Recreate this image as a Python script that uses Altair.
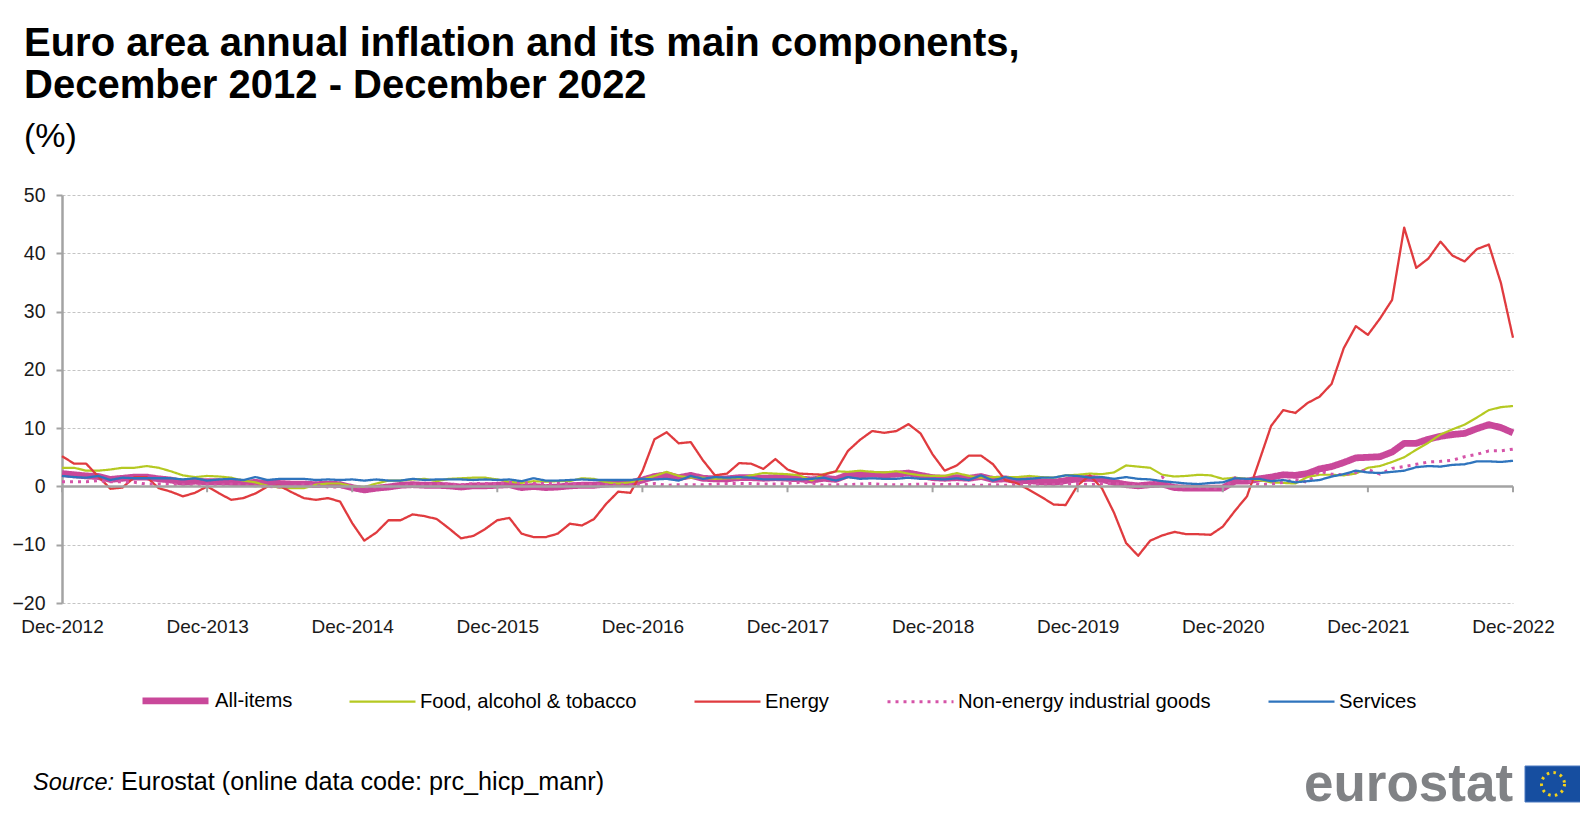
import altair as alt
import pandas as pd

FONT = "Liberation Sans"

# ---------------- data ----------------
series_names = [
    "All-items",
    "Food, alcohol & tobacco",
    "Energy",
    "Non-energy industrial goods",
    "Services",
]
series_colors = ["#C9489A", "#B5C922", "#E03B3F", "#D554A8", "#2F74BD"]
series_widths = [6.8, 2.2, 2.3, 3.0, 2.3]
series_dashes = [[1, 0], [1, 0], [1, 0], [3, 5], [1, 0]]

# month index 0 = Dec 2012 ... 120 = Dec 2022
month_idx = list(range(121))
tick_months = list(range(0, 121, 12))
tick_labels = ["Dec-2012", "Dec-2013", "Dec-2014", "Dec-2015", "Dec-2016", "Dec-2017",
               "Dec-2018", "Dec-2019", "Dec-2020", "Dec-2021", "Dec-2022"]

all_items = [2.2,
             2.0, 1.8, 1.7, 1.2, 1.4, 1.6, 1.6, 1.3, 1.1, 0.7, 0.9, 0.8,
             0.8, 0.7, 0.5, 0.7, 0.5, 0.5, 0.4, 0.4, 0.3, 0.4, 0.3, -0.2,
             -0.6, -0.3, -0.1, 0.2, 0.3, 0.2, 0.2, 0.1, -0.1, 0.1, 0.1, 0.2,
             0.3, -0.2, 0.0, -0.2, -0.1, 0.1, 0.2, 0.2, 0.4, 0.5, 0.6, 1.1,
             1.7, 2.0, 1.5, 1.9, 1.4, 1.3, 1.3, 1.5, 1.5, 1.4, 1.5, 1.4,
             1.3, 1.1, 1.4, 1.2, 2.0, 2.0, 2.1, 2.0, 2.1, 2.3, 1.9, 1.5,
             1.4, 1.5, 1.4, 1.7, 1.2, 1.3, 1.0, 1.0, 0.8, 0.7, 1.0, 1.3,
             1.4, 1.2, 0.7, 0.3, 0.1, 0.3, 0.4, -0.2, -0.3, -0.3, -0.3, -0.3,
             0.9, 0.9, 1.3, 1.6, 2.0, 1.9, 2.2, 3.0, 3.4, 4.1, 4.9, 5.0,
             5.1, 5.9, 7.4, 7.4, 8.1, 8.6, 8.9, 9.1, 9.9, 10.6, 10.1, 9.2]

food = [3.2,
        3.2, 2.7, 2.7, 2.9, 3.2, 3.2, 3.5, 3.2, 2.6, 1.9, 1.6, 1.8,
        1.7, 1.5, 1.0, 0.7, 0.1, -0.2, -0.3, -0.3, 0.3, 0.5, 0.5, 0.0,
        -0.1, 0.5, 1.0, 1.0, 1.2, 1.3, 0.9, 1.3, 1.4, 1.5, 1.5, 1.2,
        0.8, 0.6, 0.9, 0.8, 0.9, 0.9, 1.4, 1.3, 0.7, 0.5, 0.7, 1.2,
        1.8, 2.5, 1.8, 1.5, 1.5, 1.3, 1.4, 1.4, 1.9, 2.3, 2.2, 2.1,
        1.9, 1.0, 2.1, 2.6, 2.5, 2.7, 2.5, 2.4, 2.6, 2.2, 1.9, 1.8,
        1.8, 2.3, 1.8, 1.5, 1.6, 1.6, 1.6, 1.8, 1.6, 1.5, 1.9, 2.0,
        2.2, 2.1, 2.4, 3.6, 3.4, 3.2, 2.0, 1.7, 1.8, 2.0, 1.9, 1.3,
        1.5, 1.3, 1.1, 0.7, 0.6, 0.5, 1.6, 2.0, 2.0, 1.9, 2.2, 3.2,
        3.5, 4.2, 5.0, 6.3, 7.5, 8.9, 9.8, 10.6, 11.8, 13.1, 13.6, 13.8]

energy = [5.2,
          3.9, 3.9, 1.7, -0.4, -0.2, 1.6, 1.6, -0.3, -0.9, -1.7, -1.1, 0.0,
          -1.2, -2.3, -2.0, -1.2, 0.0, 0.1, -1.0, -2.0, -2.3, -2.0, -2.6, -6.3,
          -9.3, -7.9, -5.8, -5.8, -4.8, -5.1, -5.6, -7.2, -8.9, -8.5, -7.3, -5.8,
          -5.4, -8.1, -8.7, -8.7, -8.1, -6.4, -6.7, -5.6, -3.0, -0.9, -1.1, 2.6,
          8.1, 9.3, 7.4, 7.6, 4.5, 1.9, 2.2, 4.0, 3.9, 3.0, 4.7, 2.9,
          2.2, 2.1, 2.0, 2.6, 6.1, 8.0, 9.5, 9.2, 9.5, 10.7, 9.1, 5.5,
          2.7, 3.6, 5.3, 5.3, 3.8, 1.1, 0.5, -0.6, -1.8, -3.1, -3.2, 0.2,
          1.9, -0.3, -4.5, -9.7, -11.9, -9.3, -8.4, -7.8, -8.2, -8.2, -8.3, -6.9,
          -4.2, -1.7, 4.3, 10.4, 13.1, 12.6, 14.3, 15.4, 17.6, 23.7, 27.5, 26.0,
          28.8, 32.0, 44.4, 37.5, 39.1, 42.0, 39.6, 38.6, 40.7, 41.5, 34.9, 25.5]

neig = [0.8,
        0.8, 0.8, 1.0, 0.8, 0.8, 0.7, 0.4, 0.4, 0.4, 0.3, 0.2, 0.3,
        0.2, 0.4, 0.2, 0.1, 0.0, -0.1, 0.0, 0.3, 0.2, -0.1, -0.1, -0.1,
        -0.1, -0.1, -0.1, 0.1, 0.3, 0.2, 0.4, 0.4, 0.3, 0.5, 0.5, 0.5,
        0.7, 0.7, 0.5, 0.5, 0.5, 0.5, 0.4, 0.3, 0.3, 0.3, 0.3, 0.3,
        0.5, 0.2, 0.3, 0.3, 0.3, 0.4, 0.5, 0.5, 0.5, 0.4, 0.4, 0.5,
        0.7, 0.6, 0.2, 0.3, 0.3, 0.4, 0.5, 0.3, 0.3, 0.3, 0.4, 0.4,
        0.3, 0.4, 0.2, 0.2, 0.3, 0.2, 0.3, 0.3, 0.3, 0.3, 0.4, 0.5,
        0.3, 0.5, 0.5, 0.3, 0.2, 0.2, 1.6, -0.1, -0.1, -0.1, -0.3, -0.5,
        1.5, 1.0, 0.3, 0.4, 0.7, 1.2, 0.7, 2.6, 2.1, 2.0, 2.4, 2.9,
        2.1, 3.1, 3.4, 3.8, 4.2, 4.3, 4.5, 5.1, 5.5, 6.1, 6.1, 6.4]

services = [1.8,
            1.6, 1.5, 1.8, 1.1, 1.5, 1.4, 1.4, 1.4, 1.4, 1.2, 1.4, 1.0,
            1.2, 1.3, 1.1, 1.6, 1.1, 1.3, 1.3, 1.3, 1.1, 1.2, 1.1, 1.2,
            1.0, 1.2, 1.0, 1.0, 1.3, 1.1, 1.2, 1.2, 1.2, 1.1, 1.2, 1.1,
            1.2, 0.9, 1.4, 1.0, 1.0, 1.1, 1.2, 1.1, 1.1, 1.1, 1.1, 1.3,
            1.2, 1.3, 1.0, 1.8, 1.3, 1.6, 1.5, 1.6, 1.5, 1.2, 1.2, 1.2,
            1.2, 1.3, 1.5, 1.0, 1.6, 1.3, 1.4, 1.3, 1.3, 1.5, 1.3, 1.3,
            1.2, 1.4, 1.1, 1.9, 1.0, 1.6, 1.2, 1.3, 1.5, 1.5, 1.9, 1.8,
            1.5, 1.6, 1.3, 1.6, 1.3, 1.2, 0.9, 0.7, 0.5, 0.4, 0.6, 0.7,
            1.4, 1.3, 1.3, 0.9, 1.1, 0.7, 0.9, 1.1, 1.7, 2.1, 2.7, 2.4,
            2.3, 2.5, 2.7, 3.3, 3.5, 3.4, 3.7, 3.8, 4.3, 4.3, 4.2, 4.4]

title_line1 = "Euro area annual inflation and its main components,"
title_line2 = "December 2012 - December 2022"
unit_text = "(%)"
source_label = "Source:"
source_text = "Eurostat (online data code: prc_hicp_manr)"
logo_text = "eurostat"

# ---------------- table ----------------
rows = []
for name, vals in zip(series_names, [all_items, food, energy, neig, services]):
    for m, v in zip(month_idx, vals):
        rows.append({"m": m, "series": name, "value": v})
df = pd.DataFrame(rows)

# ---------------- layout (page pixels) ----------------
PX0, PY0 = 62, 195          # top-left of plot area on page
W, H = 1451, 408

x_scale = alt.Scale(domain=[0, 120], nice=False, zero=False)
y_scale = alt.Scale(domain=[-20, 50], nice=False, zero=False)

label_expr = "[" + ",".join("'%s'" % t for t in tick_labels) + "][round(datum.value / 12)]"

legend = alt.Legend(
    title=None, orient="none", legendX=77, legendY=469, direction="horizontal",
    symbolType="stroke", symbolSize=4356, labelFont=FONT, labelFontSize=20.2,
    labelColor="#000000", columnPadding=52, labelOffset=3, labelLimit=500,
)

lines = alt.Chart(df).mark_line(strokeJoin="round", strokeCap="butt").encode(
    x=alt.X("m:Q", scale=x_scale, axis=alt.Axis(
        values=tick_months, labelExpr=label_expr, domain=False, ticks=False, grid=False,
        title=None, labelFont=FONT, labelFontSize=19, labelColor="#1a1a1a",
        labelPadding=14, labelFlush=False, labelOverlap=False)),
    y=alt.Y("value:Q", scale=y_scale, axis=alt.Axis(
        values=list(range(-20, 51, 10)), title=None, grid=True, gridDash=[3, 2],
        gridColor="#C4C4C4", gridWidth=1, domainColor="#A3A3A3", domainWidth=2.5,
        tickColor="#A3A3A3", tickSize=6, tickWidth=2, labelFont=FONT,
        labelFontSize=19.5, labelColor="#1a1a1a", labelPadding=11)),
    color=alt.Color("series:N", scale=alt.Scale(domain=series_names, range=series_colors), legend=legend),
    strokeWidth=alt.StrokeWidth("series:N", scale=alt.Scale(type="ordinal", domain=series_names, range=series_widths), legend=legend),
    strokeDash=alt.StrokeDash("series:N", scale=alt.Scale(domain=series_names, range=series_dashes), legend=legend),
    detail="series:N",
)

one = pd.DataFrame({"k": [0]})
zero_line = alt.Chart(one).mark_rule(color="#A3A3A3", strokeWidth=2.5).encode(
    x=alt.datum(0), x2=alt.datum(120), y=alt.datum(0))

tick_df = pd.DataFrame({"m": tick_months})
zero_ticks = alt.Chart(tick_df).mark_rule(color="#A3A3A3", strokeWidth=2).encode(
    x=alt.X("m:Q"), y=alt.datum(0), y2=alt.datum(-1.0))


def text_layer(txt, px, py, size, weight="normal", style="normal", color="#000000"):
    return alt.Chart(pd.DataFrame({"t": [txt]})).mark_text(
        align="left", baseline="alphabetic", font=FONT, fontSize=size,
        fontWeight=weight, fontStyle=style, color=color,
    ).encode(x=alt.value(px - PX0), y=alt.value(py - PY0), text="t:N")


t1 = text_layer(title_line1, 24, 56, 40, weight="bold")
t2 = text_layer(title_line2, 24, 98, 40, weight="bold")
t3 = text_layer(unit_text, 24, 147, 34)
s1 = text_layer(source_label, 33, 790, 23.5, style="italic")
s2 = text_layer(source_text, 121, 790, 25.2)
logo = text_layer(logo_text, 1304, 801, 53, weight="bold", color="#808285")

flag = alt.Chart(one).mark_rect(color="#164EA0", stroke="#4A78C0", strokeWidth=1).encode(
    x=alt.value(1525 - PX0), x2=alt.value(1581 - PX0),
    y=alt.value(766 - PY0), y2=alt.value(802 - PY0))
stars = alt.Chart(one).mark_point(shape="circle", filled=False, stroke="#F4D21C",
                                  strokeWidth=3, strokeDash=[2.5, 4.3], size=531, opacity=1).encode(
    x=alt.value(1553 - PX0), y=alt.value(784 - PY0))

chart = alt.layer(lines, zero_line, zero_ticks, t1, t2, t3, s1, s2, logo, flag, stars).properties(
    width=W, height=H,
    padding={"left": PX0 - 8, "top": PY0 - 8, "right": 1572 - (PX0 - 8) - W, "bottom": 805 - (PY0 - 8) - H},
    autosize=alt.AutoSizeParams(type="none"),
    background="white",
).configure_view(stroke=None)

chart.save("out.html", embed_options={"renderer": "svg", "actions": False})
